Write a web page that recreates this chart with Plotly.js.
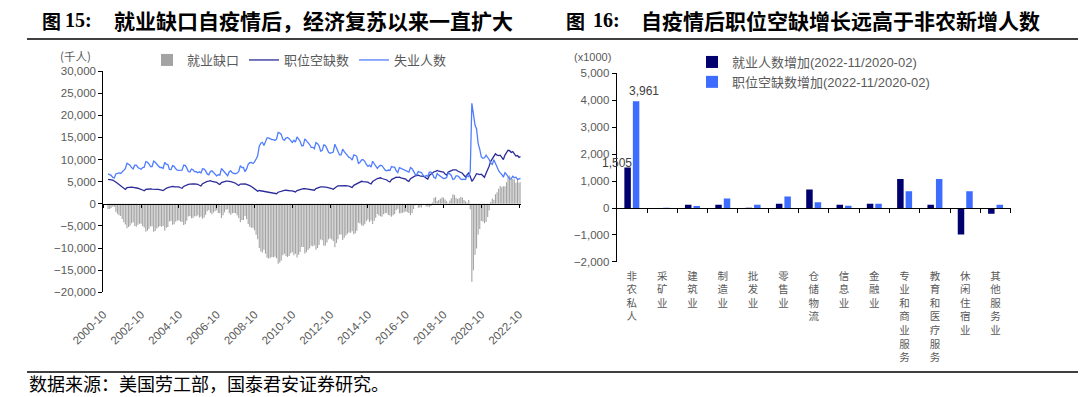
<!DOCTYPE html>
<html><head><meta charset="utf-8">
<script src="https://cdn.plot.ly/plotly-3.0.1.min.js"></script>
<style>html,body{margin:0;padding:0;background:#fff;}#chart{width:1080px;height:397px;}</style>
</head><body><div id="chart"></div>
<script>
// ---------- Figure 15 data (thousands of persons), monthly 2001-01 .. 2022-11 ----------
const firstMonth = [2001, 1];
const unemployed = [
6750,6640,6450,5960,5850,6740,6850,6970,6860,7230,7680,7930,
9160,8950,8720,8170,7900,8730,8730,8220,7920,7810,8180,8290,
9540,9390,9020,8400,8420,9640,9370,8810,8560,8210,8230,7980,
9370,8900,8920,7760,7720,8620,8460,7910,7610,7580,7610,7620,
8720,8700,8120,7290,7190,7830,7700,7270,7250,7010,7260,6990,
7910,7830,7430,6760,6560,7280,7460,7020,6570,6320,6600,6490,
7970,7550,7070,6510,6360,7260,7440,7000,6880,6800,6950,7340,
8610,8170,8210,7260,7890,8920,9290,9340,9110,9470,10120,10840,
13010,13710,13900,13200,14000,14900,14900,14700,14500,14500,14300,14600,
16150,15990,15680,14600,14330,14860,15010,14720,14130,13880,14350,13940,
15130,14650,14150,13120,13160,14660,14310,13820,13390,12780,12770,12440,
13820,13580,13090,11890,12030,13330,13160,12470,11630,11400,11520,11680,
13470,12670,12040,11050,11070,12340,11790,11280,10820,10470,10360,9880,
11020,10970,10690,9120,9370,9930,9990,9600,8890,8450,8730,8280,
9620,9130,8760,8010,8430,8710,8610,8030,7600,7450,7630,7540,
8410,8290,8270,7460,7090,8170,7990,7810,7590,7330,7150,7150,
8220,7950,7380,6680,6540,7330,7140,7070,6490,6130,6400,6210,
7150,7160,6760,5940,5780,6870,6490,6200,5810,5730,5780,5950,
7030,6630,6400,5510,5650,6300,6320,6000,5560,5500,5590,5480,
6360,6130,7400,22700,20500,17800,16900,13600,12300,10600,10300,10400,
11000,10590,10020,9210,8900,9970,9110,8410,7480,6990,6640,6020,
7020,6650,6130,5590,5660,6210,5900,6010,5520,5700,5770
];
const openings = [
5530,5450,5510,5360,5150,4980,4640,4390,4100,3820,3500,3260,
3640,3700,3800,3780,3730,3710,3550,3520,3400,3330,3130,2950,
3250,3300,3380,3360,3310,3340,3240,3260,3250,3230,3080,2990,
3350,3500,3690,3780,3830,3920,3860,3880,3850,3820,3630,3520,
3930,4100,4320,4410,4460,4560,4480,4490,4450,4410,4190,4050,
4560,4750,4990,5090,5150,5250,5100,5050,4950,4850,4550,4360,
4800,4950,5150,5150,5150,5140,5000,4900,4800,4660,4370,4140,
4460,4500,4580,4520,4410,4350,4120,3930,3700,3480,3130,2860,
3010,2950,2910,2840,2730,2700,2580,2550,2500,2450,2350,2290,
2620,2750,2910,2990,3050,3070,2990,2960,2950,2940,2760,2680,
3010,3150,3280,3360,3410,3450,3400,3420,3350,3330,3170,3080,
3440,3600,3800,3830,3830,3870,3760,3720,3650,3630,3450,3300,
3690,3850,4060,4100,4150,4190,4120,4130,4050,4020,3820,3700,
4170,4350,4630,4830,4940,5090,5000,5000,4950,4900,4650,4490,
5040,5300,5620,5720,5780,5880,5720,5660,5500,5390,5110,4930,
5480,5700,5980,6040,5990,6040,5870,5810,5700,5590,5240,5060,
5670,5900,6190,6300,6350,6470,6330,6270,6200,6130,5800,5590,
6400,6700,7070,7250,7350,7530,7360,7340,7250,7150,6760,6510,
7180,7400,7640,7670,7670,7690,7420,7290,7100,6910,6440,6070,
6600,7000,6200,5100,5500,6300,6800,6700,6600,6700,6300,6000,
6900,7600,8500,9600,10100,10900,11300,11000,10900,11000,10400,10000,
11000,11500,12100,12000,11600,11800,11400,10800,10900,10500,10700
];
const leftNames = ['就业缺口','职位空缺数','失业人数'];

// ---------- Figure 16 data (x1000) ----------
const industries = ['非农私人','采矿业','建筑业','制造业','批发业','零售业','仓储物流','信息业','金融业','专业和商业服务','教育和医疗服务','休闲住宿业','其他服务业'];
const employmentChange = [1505,-40,125,125,12,160,690,125,160,1075,125,-980,-210];
const openingsChange   = [3961,10,75,355,125,430,210,85,160,620,1075,620,120];
const rightNames = ['就业人数增加(2022-11/2020-02)','职位空缺数增加(2022-11/2020-02)'];

// ---------- derived ----------
const months = unemployed.map((_, i) => {
  const t = firstMonth[0]*12 + (firstMonth[1]-1) + i;
  const y = Math.floor(t/12), m = t%12 + 1;
  return y + '-' + String(m).padStart(2,'0') + '-01';
});
const gap = openings.map((v, i) => v - unemployed[i]);
const catLabels = industries.map(s => s.split('').join('<br>'));

const W = 1080, H = 397;
const px = x => x / W;
const py = y => 1 - y / H;
const grey = '#595959';
const numFont = {family:'Liberation Sans, Arial, sans-serif', size:11.5, color:grey};
const cjk = 'Noto Sans CJK SC, sans-serif';
const monthMs = 30.44*86400000;
const xRange = ['2000-10-01','2022-11-01'];

const traces = [
  {type:'bar', x:months, y:gap, name:leftNames[0], xaxis:'x', yaxis:'y', legend:'legend',
   marker:{color:'#a3a3a3', line:{width:0}}, width:months.map(()=>0.7*monthMs), hoverinfo:'skip'},
  {type:'scatter', mode:'lines', x:months, y:openings, name:leftNames[1], xaxis:'x', yaxis:'y', legend:'legend',
   line:{color:'#2b2b9a', width:1.3}, hoverinfo:'skip'},
  {type:'scatter', mode:'lines', x:months, y:unemployed, name:leftNames[2], xaxis:'x', yaxis:'y', legend:'legend',
   line:{color:'#4f7dff', width:1.3}, hoverinfo:'skip'},
  {type:'scatter', mode:'lines', x:[months[0]], y:[null], xaxis:'x3', yaxis:'y', showlegend:false, hoverinfo:'skip'},
  {type:'bar', x:catLabels, y:employmentChange, name:rightNames[0], xaxis:'x2', yaxis:'y2', legend:'legend2',
   marker:{color:'#00006e'}, hoverinfo:'skip'},
  {type:'bar', x:catLabels, y:openingsChange, name:rightNames[1], xaxis:'x2', yaxis:'y2', legend:'legend2',
   marker:{color:'#3d6cff'}, hoverinfo:'skip'},
  {type:'scatter', mode:'lines', x:[0], y:[null], xaxis:'x4', yaxis:'y2', showlegend:false, hoverinfo:'skip'}
];

const fmt = v => v.toLocaleString('en-US');
const annotations = [
  {xref:'paper', yref:'paper', x:px(40), y:py(20), xanchor:'left', yanchor:'middle', showarrow:false,
   text:'<b>图</b>', font:{family:cjk, size:19, color:'#000'}},
  {xref:'paper', yref:'paper', x:px(63), y:py(20), xanchor:'left', yanchor:'middle', showarrow:false,
   text:'<b>15:</b>', font:{family:'Liberation Serif, serif', size:20, color:'#000'}},
  {xref:'paper', yref:'paper', x:px(112), y:py(20), xanchor:'left', yanchor:'middle', showarrow:false,
   text:'<b>就业缺口自疫情后，经济复苏以来一直扩大</b>', font:{family:cjk, size:21, color:'#000'}},
  {xref:'paper', yref:'paper', x:px(564), y:py(20), xanchor:'left', yanchor:'middle', showarrow:false,
   text:'<b>图</b>', font:{family:cjk, size:19, color:'#000'}},
  {xref:'paper', yref:'paper', x:px(591), y:py(20), xanchor:'left', yanchor:'middle', showarrow:false,
   text:'<b>16:</b>', font:{family:'Liberation Serif, serif', size:20, color:'#000'}},
  {xref:'paper', yref:'paper', x:px(639), y:py(20), xanchor:'left', yanchor:'middle', showarrow:false,
   text:'<b>自疫情后职位空缺增长远高于非农新增人数</b>', font:{family:cjk, size:21, color:'#000'}},
  {xref:'paper', yref:'paper', x:px(27), y:py(383), xanchor:'left', yanchor:'middle', showarrow:false,
   text:'数据来源：美国劳工部，国泰君安证券研究。', font:{family:cjk, size:18, color:'#000'}},
  {xref:'paper', yref:'paper', x:px(75), y:py(56), xanchor:'center', yanchor:'middle', showarrow:false,
   text:'(千人)', font:{family:cjk, size:11.5, color:grey}},
  {xref:'paper', yref:'paper', x:px(592), y:py(57), xanchor:'center', yanchor:'middle', showarrow:false,
   text:'(x1000)', font:{family:'Liberation Sans, sans-serif', size:11, color:grey}},
  {xref:'x2', yref:'y2', x:catLabels[0], y:employmentChange[0], xshift:-15, yshift:-5, yanchor:'bottom', showarrow:false,
   text:fmt(employmentChange[0]), font:{family:'Liberation Sans, sans-serif', size:12, color:'#404040'}},
  {xref:'x2', yref:'y2', x:catLabels[0], y:openingsChange[0], xshift:12, yshift:1, yanchor:'bottom', showarrow:false,
   text:fmt(openingsChange[0]), font:{family:'Liberation Sans, sans-serif', size:12, color:'#404040'}}
];

const shapes = [
  {type:'line', xref:'paper', yref:'paper', x0:px(27), x1:px(1078), y0:py(39), y1:py(39), line:{color:'#000', width:1.3}},
  {type:'line', xref:'paper', yref:'paper', x0:px(27), x1:px(1078), y0:py(372), y1:py(372), line:{color:'#000', width:1.3}}
];

const layout = {
  width:W, height:H, margin:{l:0,r:0,t:0,b:0}, paper_bgcolor:'#fff', plot_bgcolor:'rgba(0,0,0,0)',
  font:numFont, hovermode:false,
  barmode:'group', bargap:0.44, bargroupgap:0.235,
  xaxis:{domain:[px(103.3), px(520.7)], anchor:'y', type:'date', range:xRange, tick0:'2000-10-01', dtick:'M24',
    tickformat:'%Y-%m', tickangle:-45, showline:false, showgrid:false, zeroline:false,
    ticks:'outside', ticklen:10, tickcolor:'rgba(0,0,0,0)', tickfont:numFont},
  xaxis3:{overlaying:'x', anchor:'free', position:py(203.8), type:'date', range:xRange, tick0:'2000-10-01', dtick:'M24',
    showline:true, linecolor:'#000', linewidth:1, ticks:'outside', ticklen:3, tickcolor:'#000',
    showticklabels:false, showgrid:false, zeroline:false},
  yaxis:{domain:[py(292.4), py(71)], anchor:'x', range:[-20000,30000], dtick:5000, tickformat:',d',
    showline:true, linecolor:'#000', linewidth:1, ticks:'outside', ticklen:4, tickcolor:'#000',
    showgrid:false, zeroline:false, tickfont:numFont},
  xaxis2:{domain:[px(616.7), px(1010.7)], anchor:'y2', type:'category', range:[-0.5,12.5],
    showline:false, showgrid:false, zeroline:false, ticks:'outside', ticklen:4, tickcolor:'rgba(0,0,0,0)',
    tickangle:0, tickfont:{family:cjk, size:10.5, color:grey}},
  xaxis4:{overlaying:'x2', anchor:'free', position:py(207.7), type:'linear', range:[-0.5,12.5], tick0:-0.5, dtick:1,
    showline:true, linecolor:'#000', linewidth:1, ticks:'outside', ticklen:4, tickcolor:'#000',
    showticklabels:false, showgrid:false, zeroline:false},
  yaxis2:{domain:[py(261.9), py(73.3)], anchor:'x2', range:[-2000,5000], dtick:1000, tickformat:',d',
    showline:true, linecolor:'#000', linewidth:1, ticks:'outside', ticklen:4, tickcolor:'#000',
    showgrid:false, zeroline:false, tickfont:numFont},
  showlegend:true,
  legend:{orientation:'h', x:px(147), y:py(60), xanchor:'left', yanchor:'middle', bgcolor:'rgba(0,0,0,0)',
    font:{family:cjk, size:13, color:grey}, traceorder:'normal'},
  legend2:{orientation:'v', x:px(692), y:py(47), xanchor:'left', yanchor:'top', bgcolor:'rgba(0,0,0,0)',
    font:{family:'Liberation Sans, Noto Sans CJK SC, sans-serif', size:13, color:grey}, tracegroupgap:0, traceorder:'normal'},
  annotations:annotations, shapes:shapes
};

Plotly.newPlot('chart', traces, layout, {staticPlot:true, displayModeBar:false});
</script></body></html>
